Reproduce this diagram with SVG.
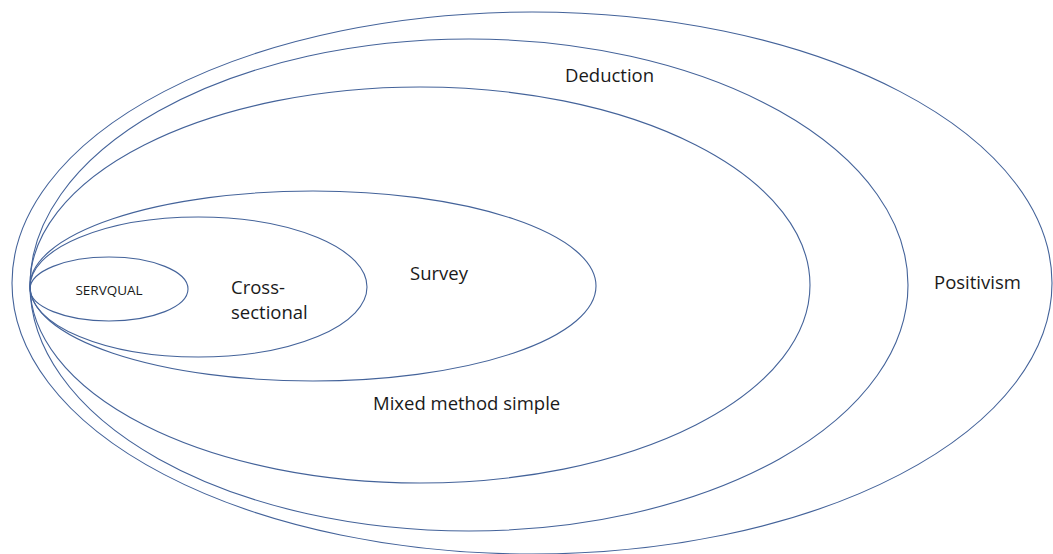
<svg xmlns="http://www.w3.org/2000/svg" width="1053" height="554" viewBox="0 0 1053 554">
<style>
.e{fill:none;stroke:#44639a;stroke-width:1.1}
.t{font-family:"Open Sans","Liberation Sans",sans-serif;font-size:18.5px;fill:#1a1a1a}
.s{font-family:"Open Sans","Liberation Sans",sans-serif;font-size:13.5px;fill:#1a1a1a}
</style>
<rect width="1053" height="554" fill="#ffffff"/>
<g id="positivism"><ellipse class="e" cx="532" cy="283" rx="520" ry="271"/><text class="t" x="934" y="289">Positivism</text></g>
<g id="deduction"><ellipse class="e" cx="469" cy="285" rx="439" ry="246"/><text class="t" x="565" y="82">Deduction</text></g>
<g id="mixed"><ellipse class="e" cx="420" cy="285" rx="390" ry="198"/><text class="t" x="373" y="410">Mixed method simple</text></g>
<g id="survey"><ellipse class="e" cx="313" cy="286" rx="283" ry="95"/><text class="t" x="410" y="280">Survey</text></g>
<g id="cross"><ellipse class="e" cx="198.5" cy="287" rx="168.5" ry="70"/><text class="t" x="231" y="294">Cross-</text><text class="t" x="231" y="319">sectional</text></g>
<g id="servqual"><ellipse class="e" cx="109" cy="289" rx="79" ry="32"/><text class="s" x="109" y="295" text-anchor="middle">SERVQUAL</text></g>
<g id="connectors"/>
</svg>
